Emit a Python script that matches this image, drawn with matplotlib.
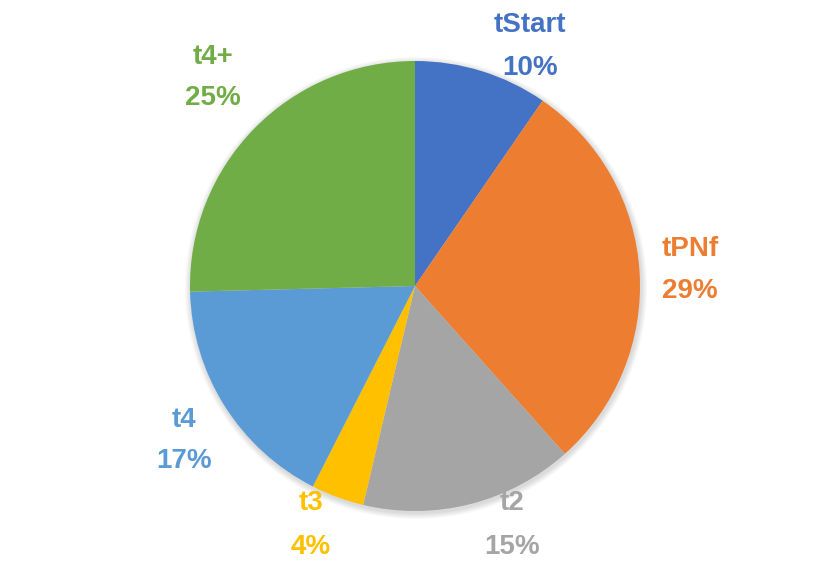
import matplotlib.pyplot as plt
from matplotlib.patches import Circle

# slice data, clockwise from 12 o'clock
labels = ['tStart', 'tPNf', 't2', 't3', 't4', 't4+']
values = [9.6, 28.8, 15.3, 3.8, 17.1, 25.4]
colors = ['#4472C4', '#ED7D31', '#A5A5A5', '#FFC000', '#5B9BD5', '#70AD47']

# label anchor points (pixel coords, y from top): name line, percent line
label_x = [530, 690, 512, 311, 184, 213]
name_y = [25, 249, 503, 503, 420, 57]
pct_y = [68, 291, 547, 547, 461, 98]

W, H = 830, 571
cx, cy, r = 415, 286, 225

fig = plt.figure(figsize=(W / 100, H / 100), dpi=100)
ax = fig.add_axes([0, 0, 1, 1])

# soft shadow behind the pie
for k in range(6):
    ax.add_patch(Circle((cx + 1, H - cy - 2), r + 1 + k, color='black',
                        alpha=0.025, lw=0, zorder=0))

ax.pie(values, colors=colors, startangle=90, counterclock=False,
       center=(cx, H - cy), radius=r, frame=True,
       wedgeprops=dict(linewidth=0), normalize=True)
ax.set_xlim(0, W)
ax.set_ylim(0, H)
ax.set_aspect('equal')
ax.axis('off')

total = sum(values)
font = ['Liberation Sans', 'DejaVu Sans']
for lab, v, c, x, ny, py in zip(labels, values, colors, label_x, name_y, pct_y):
    ax.text(x, H - ny, lab, color=c, fontsize=20, fontweight='bold',
            family=font, ha='center', va='center')
    ax.text(x, H - py, f'{round(100 * v / total)}%', color=c, fontsize=20,
            fontweight='bold', family=font, ha='center', va='center')

fig.savefig('out.png', dpi=100)
